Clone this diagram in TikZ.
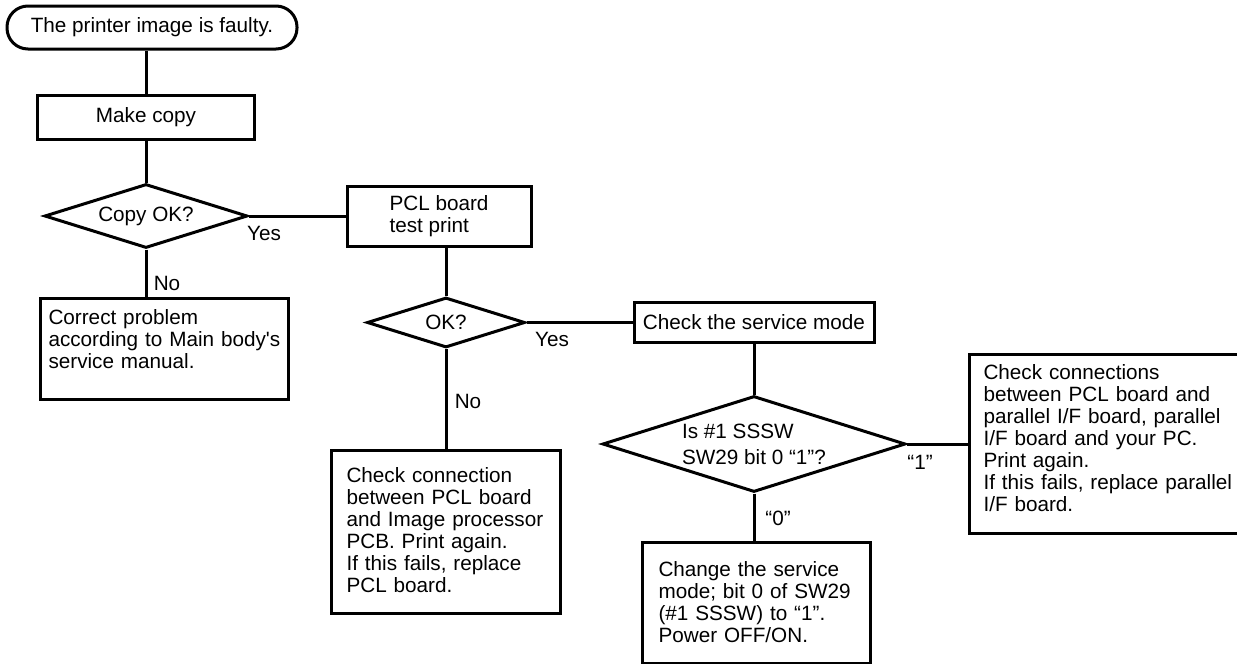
\documentclass[tikz,border=0pt]{standalone}
\usepackage{fontspec}
\setmainfont{Liberation Sans}
\usetikzlibrary{shapes.geometric}

\begin{document}
\begin{tikzpicture}[x=1pt,y=-1pt,line width=3pt,
	every node/.style={font=\fontsize{20.7}{22}\selectfont,inner sep=0pt},
	box/.style={draw,rectangle,align=left},
	note/.style={draw,rectangle,anchor=north west,align=left,text height=15pt},
	dec/.style={draw,diamond,aspect=3.2,align=left}]
	\useasboundingbox (0,0) rectangle (1237,664);
	\clip (0,0) rectangle (1237,664);
	\node[box,rounded corners=21pt,minimum width=290pt,minimum height=43pt] (start) at (152,27.5) {The printer image is faulty.};
	\node[box,minimum width=217pt,minimum height=44pt] (copy) at (146,117) {Make copy};
	\node[dec,minimum width=203pt,minimum height=64pt] (copyok) at (146,216) {Copy OK?};
	\node[note,text width=232pt,inner xsep=8pt,inner ysep=11pt,text depth=64pt] (fix) at (39,297) {Correct problem\\according to Main body\textquotesingle s\\service manual.};
	\node[box,minimum width=184pt,minimum height=60pt] (pcl) at (439,216) {PCL board\\test print};
	\node[dec,minimum width=158pt,minimum height=50pt] (ok) at (446,322.5) {OK?};
	\node[note,text width=199pt,inner xsep=15pt,inner ysep=17pt,text depth=114pt] (conn) at (330,449) {Check connection\\between PCL board\\and Image processor\\PCB. Print again.\\If this fails, replace\\PCL board.};
	\node[box,minimum width=240pt,minimum height=40pt] (mode) at (754,322.5) {Check the service mode};
	\node[dec,minimum width=303pt,minimum height=96pt,font=\fontsize{20.7}{26}\selectfont] (sw) at (754,444) {Is \#1 SSSW\\SW29 bit 0 “1”?};
	\node[note,text width=196pt,inner xsep=16pt,inner ysep=19pt,text depth=68pt] (change) at (641,541) {Change the service\\mode; bit 0 of SW29\\(\#1 SSSW) to “1”.\\Power OFF/ON.};
	\node[note,text width=260pt,inner xsep=14pt,inner ysep=10pt,text depth=144pt] (ifbox) at (968,353) {Check connections\\between PCL board and\\parallel I/F board, parallel\\I/F board and your PC.\\Print again.\\If this fails, replace parallel\\I/F board.};
	\node (yes1) at (264,233) {Yes};
	\node (no1) at (167,283) {No};
	\node (yes2) at (552,339) {Yes};
	\node (no2) at (468,401) {No};
	\node (one) at (920,462) {“1”};
	\node (zero) at (778,518) {“0”};
	\draw (copy.north) -- (copy.north |- start.south);
	\draw (copy) -- (copyok);
	\draw (copyok.south) -- (copyok.south |- fix.north);
	\draw (copyok) -- (pcl);
	\draw (ok.north |- pcl.south) -- (ok.north);
	\draw (ok.south) -- (ok.south |- conn.north);
	\draw (ok) -- (mode);
	\draw (mode) -- (sw);
	\draw (sw.south) -- (sw.south |- change.north);
	\draw (sw.east) -- (sw.east -| ifbox.west);
\end{tikzpicture}
\end{document}
